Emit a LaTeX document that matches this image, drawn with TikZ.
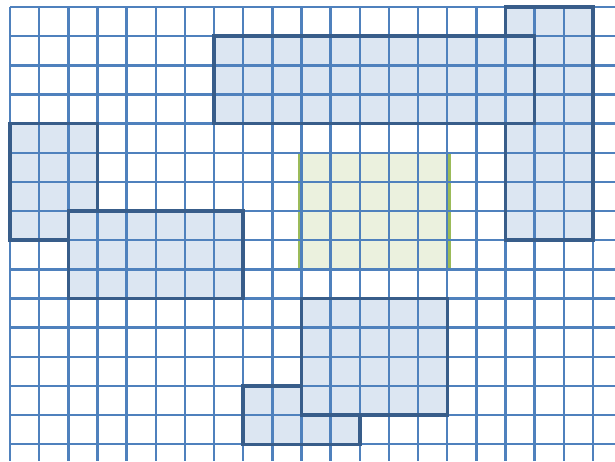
\documentclass[tikz,border=0pt]{standalone}
\usepackage{xcolor}
\definecolor{gridblue}{HTML}{4F81BD}
\definecolor{edgeblue}{HTML}{385D8A}
\definecolor{fillblue}{HTML}{DCE6F2}
\definecolor{fillgreen}{HTML}{EBF1DE}
\definecolor{edgegreen}{HTML}{9BBB59}

\begin{document}
\begin{tikzpicture}[
    x=1cm, y=-1cm,
    gridline/.style={draw=gridblue, line width=2.4pt},
    taken/.style={fill=fillblue},
    free/.style={fill=fillgreen},
    takenedge/.style={draw=edgeblue, line width=3.4pt, line join=miter},
    freeedge/.style={draw=edgegreen, line width=2.4pt}
]
\useasboundingbox (-0.343,-0.240) rectangle (20.755,15.575);

% occupied blocks, back to front
\fill[taken] (17,0) rectangle (20,8);
\fill[taken] (7,1) rectangle (18,4);
\fill[taken] (0,4) rectangle (3,8);
\fill[taken] (2,7) rectangle (8,10);
\fill[free] (10,5) rectangle (15,9);
\fill[taken] (8,13) rectangle (12,15);
\fill[taken] (10,10) rectangle (15,14);

% free block edge sits under the grid
\draw[freeedge] (9.93,5) rectangle (15.07,9);

% grid
\foreach \i in {0,...,20}
    \draw[gridline] (\i,0) -- (\i,15.575);
\foreach \j in {0,...,15}
    \draw[gridline] (0,\j) -- (20.755,\j);

% outlines (visible parts only)
\draw[takenedge] (17,1) -- (17,0) -- (20,0) -- (20,8) -- (17,8) -- (17,4);
\draw[takenedge] (7,1) rectangle (18,4);
\draw[takenedge] (3,7) -- (3,4) -- (0,4) -- (0,8) -- (2,8);
\draw[takenedge] (2,7) rectangle (8,10);
\draw[takenedge] (10,13) -- (8,13) -- (8,15) -- (12,15) -- (12,14);
\draw[takenedge] (10,10) rectangle (15,14);
\end{tikzpicture}
\end{document}
